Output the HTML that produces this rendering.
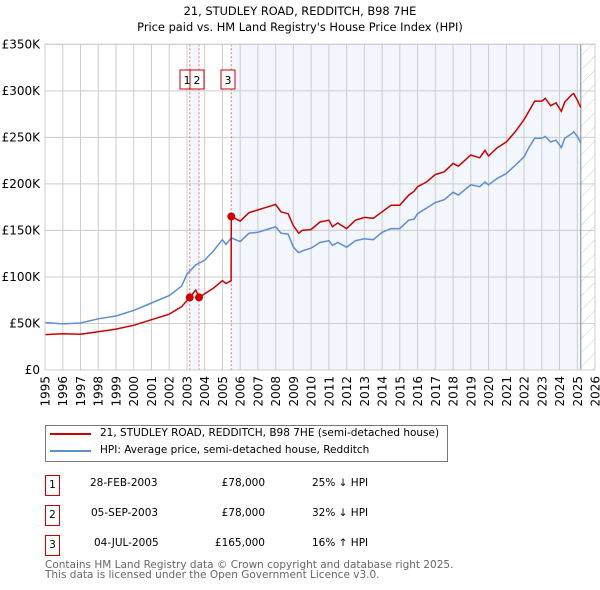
<!DOCTYPE html>
<html><head><meta charset="utf-8"><style>
body{margin:0;background:#fff;font-family:"DejaVu Sans","Liberation Sans",sans-serif;}
#wrap{position:relative;width:600px;height:590px;overflow:hidden}
.t{position:absolute;white-space:nowrap;font-size:10.5px;color:#000}
.box{position:absolute;width:13px;height:19px;border:1px solid #c00;font-size:10.5px;text-align:center;line-height:19px}
</style></head><body><div id="wrap">
<div class="t" style="left:0;width:600px;text-align:center;top:4px;font-size:11.4px">21, STUDLEY ROAD, REDDITCH, B98 7HE</div>
<div class="t" style="left:0;width:600px;text-align:center;top:20px;font-size:11.4px">Price paid vs. HM Land Registry's House Price Index (HPI)</div>
<svg id="ch" width="600" height="420" style="position:absolute;left:0;top:0"></svg>
<div style="position:absolute;left:45px;top:425px;width:401px;height:35px;border:1px solid #777"></div>
<div style="position:absolute;left:50px;top:433px;width:41px;height:2px;background:#c00"></div>
<div class="t" style="left:100px;top:427px">21, STUDLEY ROAD, REDDITCH, B98 7HE (semi-detached house)</div>
<div style="position:absolute;left:50px;top:450px;width:41px;height:2px;background:#5b8ed6"></div>
<div class="t" style="left:100px;top:444px">HPI: Average price, semi-detached house, Redditch</div>
<div class="box" style="left:45px;top:475px">1</div>
<div class="t" style="left:90px;top:477px">28-FEB-2003</div>
<div class="t" style="left:200px;width:65px;text-align:right;top:477px">£78,000</div>
<div class="t" style="left:312px;top:477px">25% ↓ HPI</div>
<div class="box" style="left:45px;top:505px">2</div>
<div class="t" style="left:91px;top:507px">05-SEP-2003</div>
<div class="t" style="left:200px;width:65px;text-align:right;top:507px">£78,000</div>
<div class="t" style="left:312px;top:507px">32% ↓ HPI</div>
<div class="box" style="left:45px;top:535px">3</div>
<div class="t" style="left:94px;top:537px">04-JUL-2005</div>
<div class="t" style="left:200px;width:65px;text-align:right;top:537px">£165,000</div>
<div class="t" style="left:312px;top:537px">16% ↑ HPI</div>
<div class="t" style="left:45px;top:560px;color:#666;line-height:10px">Contains HM Land Registry data © Crown copyright and database right 2025.<br>This data is licensed under the Open Government Licence v3.0.</div>
</div>
<script>
const hpiYears=[1995,1996,1997,1998,1999,2000,2001,2002,2002.7,2003,2003.5,2004,2004.5,2005,2005.2,2005.5,2006,2006.5,2007,2007.5,2008,2008.3,2008.7,2009,2009.3,2009.5,2010,2010.5,2011,2011.2,2011.5,2012,2012.5,2013,2013.5,2014,2014.5,2015,2015.5,2015.8,2016,2016.5,2017,2017.5,2018,2018.3,2019,2019.5,2019.8,2020,2020.5,2021,2021.5,2022,2022.3,2022.6,2023,2023.2,2023.5,2023.8,2024.1,2024.3,2024.7,2024.8,2025,2025.2];
const hpiValues=[51,49.5,50.5,55,58,64,72,80,90,103,113,118,128,140,135,142,138,147,148,151,154,147,146,132,126,128,131,137,139,134,137,132,139,141,140,148,152,152,161,162,168,174,180,183,191,188,199,197,202,199,206,211,220,229,240,249,249,251,245,247,239,249,254,256,251,244];
const priceYears=[1995,1996,1997,1998,1999,2000,2001,2002,2002.7,2003.16,2003.5,2003.68,2004,2004.5,2005,2005.2,2005.49,2005.5,2006,2006.5,2007,2007.5,2008,2008.3,2008.7,2009,2009.3,2009.5,2010,2010.5,2011,2011.2,2011.5,2012,2012.5,2013,2013.5,2014,2014.5,2015,2015.5,2015.8,2016,2016.5,2017,2017.5,2018,2018.3,2019,2019.5,2019.8,2020,2020.5,2021,2021.5,2022,2022.3,2022.6,2023,2023.2,2023.5,2023.8,2024.1,2024.3,2024.7,2024.8,2025,2025.2];
const priceValues=[38,39,38.5,41,44,48,54,60,68,78,86,78,82,88,96,93,96,165,160,169,172,175,178,170,168,155,147,150,151,159,161,154,158,152,161,164,163,170,177,177,188,192,197,202,210,213,222,219,231,228,236,230,239,245,256,269,279,289,289,292,284,287,278,288,296,297,290,282];
const saleYears=[2003.16,2003.68,2005.5];
const salePrices=[78,78,165];
const saleLabels=["1","2","3"];
const yTicks=[0,50,100,150,200,250,300,350];
const yTickLabels=["£0","£50K","£100K","£150K","£200K","£250K","£300K","£350K"];
const xTicks=[1995,1996,1997,1998,1999,2000,2001,2002,2003,2004,2005,2006,2007,2008,2009,2010,2011,2012,2013,2014,2015,2016,2017,2018,2019,2020,2021,2022,2023,2024,2025,2026];
const dataEnd=2025.2;
const X0=45,X1=595,Y0=370,Y1=44.3;
const xs=y=>X0+(y-1995)/(2026-1995)*(X1-X0);
const ys=v=>Y0-v/350*(Y0-Y1);
const svg=document.getElementById('ch');const NS='http://www.w3.org/2000/svg';
function mk(t,a,p){const e=document.createElementNS(NS,t);for(const k in a)e.setAttribute(k,a[k]);(p||svg).appendChild(e);return e;}
let defs=mk('defs',{});let pat=mk('pattern',{id:'h',width:10,height:10,patternUnits:'userSpaceOnUse',patternTransform:'rotate(45)'},defs);mk('line',{x1:0,y1:0,x2:0,y2:10,stroke:'#ccc','stroke-width':1},pat);
let s=mk('rect',{x:xs(saleYears[0]),y:Y1,width:xs(saleYears[1])-xs(saleYears[0]),height:Y0-Y1,fill:'#f3f6fd'});

s=mk('rect',{x:xs(saleYears[2]),y:Y1,width:xs(dataEnd)-xs(saleYears[2]),height:Y0-Y1,fill:'#f3f6fd'});

s=mk('rect',{x:xs(dataEnd),y:Y1,width:X1-xs(dataEnd),height:Y0-Y1,fill:'url(#h)'});

xTicks.forEach(t=>{let l=mk('line',{x1:xs(t),x2:xs(t),y1:Y1,y2:Y0,stroke:'#ccc'});

let tx=mk('text',{x:0,y:0,transform:`translate(${xs(t)+4.5},${Y0+6}) rotate(-90)`,'text-anchor':'end','font-size':12,'font-family':'DejaVu Sans, sans-serif'});tx.textContent=t;
});
yTicks.forEach((t,i)=>{let l=mk('line',{x1:X0,x2:X1,y1:ys(t),y2:ys(t),stroke:'#ccc'});

let tx=mk('text',{x:40,y:ys(t)+4,'text-anchor':'end','font-size':12,'font-family':'DejaVu Sans, sans-serif'});tx.textContent=yTickLabels[i];
});
let dl=mk('line',{x1:xs(dataEnd),x2:xs(dataEnd),y1:Y1,y2:Y0,stroke:'#888'});

saleYears.forEach((y,i)=>{let l=mk('line',{x1:xs(y),x2:xs(y),y1:Y1,y2:Y0,stroke:'#f07070','stroke-dasharray':'2,2'});
});
function path(xa,va,c,n){let p=mk('path',{d:xa.map((x,i)=>(i?'L':'M')+xs(x).toFixed(1)+','+ys(va[i]).toFixed(1)).join(''),fill:'none',stroke:c,'stroke-width':1.5});
}
path(hpiYears,hpiValues,'#5b8ed6','hpi-line');
path(priceYears,priceValues,'#cc0000','price-line');
saleYears.forEach((y,i)=>{let c=mk('circle',{cx:xs(y),cy:ys(salePrices[i]),r:4,fill:'#cc0000'});
});
const bx=[180,190,221];
saleLabels.forEach((t,i)=>{let g=mk('g',{});
mk('rect',{x:bx[i],y:70,width:14,height:19,fill:'#fff',stroke:'#c00'},g);
let tx=mk('text',{x:bx[i]+7,y:84,'text-anchor':'middle','font-size':11,'font-family':'DejaVu Sans, sans-serif'},g);tx.textContent=t;});
let fr=mk('rect',{x:X0,y:Y1,width:X1-X0,height:Y0-Y1,fill:'none',stroke:'#ccc'});

</script></body></html>
